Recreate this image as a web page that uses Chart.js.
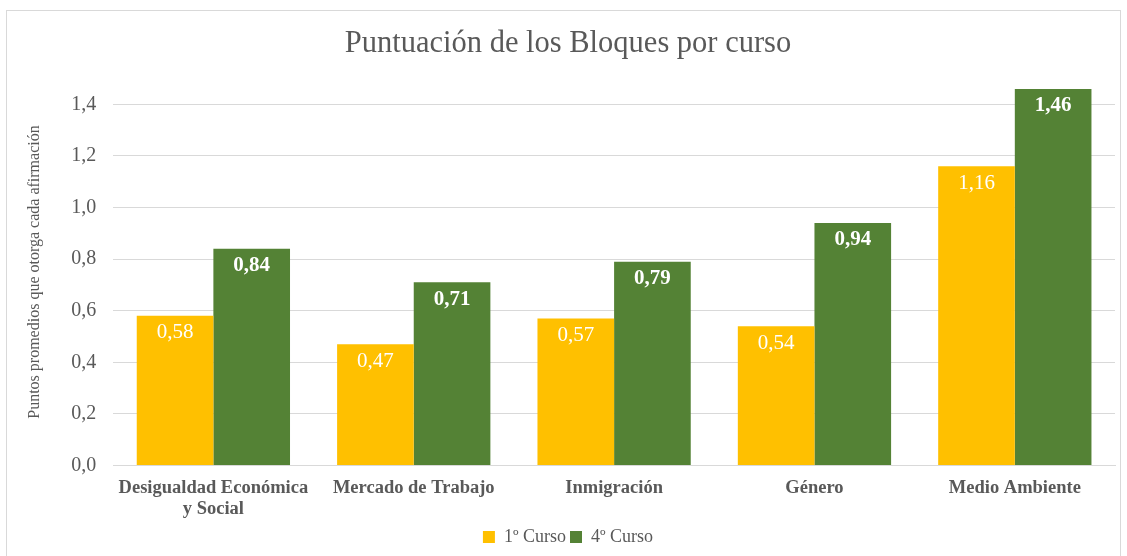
<!DOCTYPE html>
<html><head><meta charset="utf-8">
<script src="https://cdn.jsdelivr.net/npm/chart.js@4/dist/chart.umd.min.js"></script>
<style>html,body{margin:0;padding:0;background:#fff;}#wrap{position:relative;width:1127px;height:556px;}</style>
</head><body><div id="wrap"><canvas id="c" width="1127" height="556"></canvas></div>
<script>
const categories = [["Desigualdad Económica","y Social"],"Mercado de Trabajo","Inmigración","Género","Medio Ambiente"];
const curso1 = [0.58,0.47,0.57,0.54,1.16];
const curso4 = [0.84,0.71,0.79,0.94,1.46];
const seriesNames = ["1º Curso","4º Curso"];
const FONT = "'Liberation Serif', 'Times New Roman', serif";
const GREY = "#595959";

const fmt = v => v.toFixed(2).replace('.', ',');

const labelPlugin = {
  id: 'vals',
  afterDatasetsDraw(chart) {
    const ctx = chart.ctx;
    chart.data.datasets.forEach((ds, i) => {
      const meta = chart.getDatasetMeta(i);
      meta.data.forEach((bar, j) => {
        ctx.save();
        ctx.fillStyle = '#ffffff';
        ctx.font = (i === 1 ? 'bold ' : '') + '21px ' + FONT;
        ctx.textAlign = 'center';
        ctx.textBaseline = 'middle';
        ctx.fillText(fmt(ds.data[j]), bar.x, bar.y + 17);
        ctx.restore();
      });
    });
  }
};
const borderPlugin = {
  id: 'frame',
  beforeDraw(chart) {
    const ctx = chart.ctx;
    ctx.save();
    ctx.fillStyle = '#fff';
    ctx.fillRect(0,0,chart.width,chart.height);
    ctx.strokeStyle = '#d9d9d9';
    ctx.lineWidth = 1;
    ctx.strokeRect(6.5, 10.5, 1114, 560);
    ctx.restore();
  }
};

new Chart(document.getElementById('c'), {
  type: 'bar',
  data: {
    labels: categories,
    datasets: [
      { label: seriesNames[0], data: curso1, backgroundColor: '#FFC000', categoryPercentage: 0.765, barPercentage: 1.0 },
      { label: seriesNames[1], data: curso4, backgroundColor: '#548235', categoryPercentage: 0.765, barPercentage: 1.0 }
    ]
  },
  options: {
    responsive: false,
    animation: false,
    devicePixelRatio: 1,
    layout: { padding: { left: 21, right: 12, top: 22, bottom: 0 } },
    plugins: {
      title: { display: true, text: 'Puntuación de los Bloques por curso', color: GREY,
        font: { family: FONT, size: 30.5, weight: 'normal' }, padding: { top: 4, bottom: 16 } },
      legend: { position: 'bottom', labels: { color: GREY, boxWidth: 12, boxHeight: 12, padding: 4,
        font: { family: FONT, size: 18 } } },
      tooltip: { enabled: false }
    },
    scales: {
      x: {
        grid: { display: false },
        border: { color: '#d9d9d9' },
        ticks: { color: GREY, font: { family: FONT, size: 18.5, weight: 'bold', lineHeight: 1.15 }, maxRotation: 0, padding: 4 }
      },
      y: {
        min: 0, max: 1.5,
        grid: { color: '#d9d9d9', drawTicks: false },
        border: { display: false },
        ticks: { stepSize: 0.1, color: GREY, padding: 17, font: { family: FONT, size: 20 },
          callback: (v) => { const r = Math.round(v*10); return r % 2 === 0 ? (r/10).toFixed(1).replace('.', ',') : ''; } },
        title: { display: true, text: 'Puntos promedios que otorga cada afirmación', color: GREY,
          font: { family: FONT, size: 16 }, padding: { bottom: 10 } }
      }
    }
  },
  plugins: [borderPlugin, labelPlugin]
});
</script></body></html>
